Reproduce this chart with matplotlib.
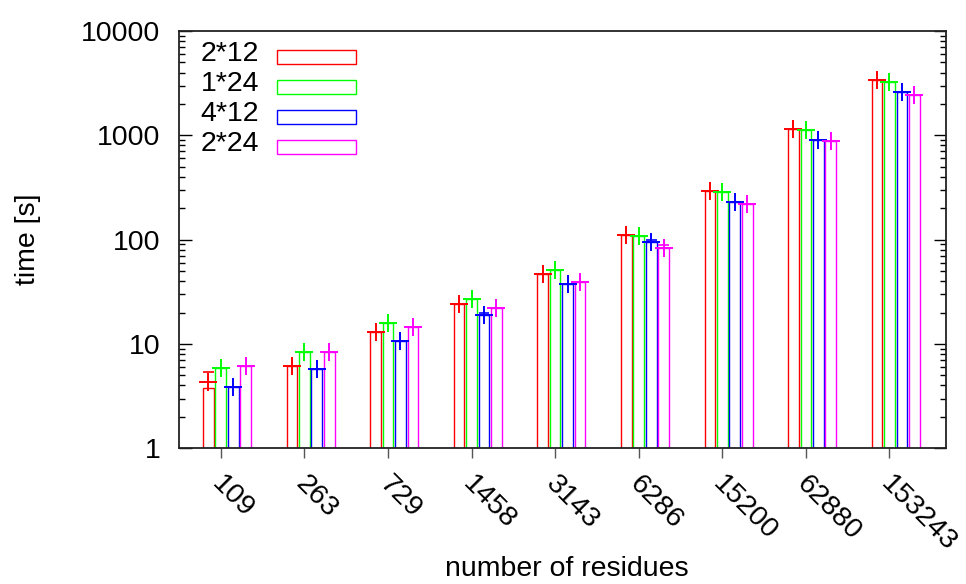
import numpy as np
import matplotlib
matplotlib.use("Agg")
import matplotlib.pyplot as plt
import matplotlib.transforms as mtransforms
from matplotlib.patches import Rectangle
from matplotlib.ticker import LogLocator, NullFormatter

# Benchmark data: wall time per run for each process layout
residues = ["109", "263", "729", "1458", "3143", "6286", "15200", "62880", "153243"]
layouts = ["2*12", "1*24", "4*12", "2*24"]

time_2x12 = [3.77, 6.1, 12.9, 23.9, 47.0, 110.0, 290.0, 1160.0, 3400.0]
time_1x24 = [5.9, 8.4, 16.0, 26.9, 51.4, 108.0, 284.0, 1135.0, 3250.0]
time_4x12 = [3.9, 5.7, 10.7, 18.8, 37.2, 94.0, 231.0, 910.0, 2590.0]
time_2x24 = [6.2, 8.45, 14.5, 22.0, 39.7, 83.6, 218.0, 890.0, 2440.0]

# centre of the point marker drawn on each bar
point_2x12 = [4.36, 6.1, 12.9, 23.9, 47.0, 110.0, 290.0, 1160.0, 3400.0]
point_1x24 = time_1x24
point_4x12 = time_4x12
point_2x24 = time_2x24

# upper whisker where the spread is visible
nan = np.nan
upper_2x12 = [5.36, nan, nan, nan, nan, nan, nan, nan, nan]
upper_1x24 = [nan] * 9
upper_4x12 = [nan, nan, nan, 19.8, nan, 98.3, nan, nan, nan]
upper_2x24 = [nan, nan, nan, nan, nan, 88.9, nan, nan, nan]

colors = ["#ff0000", "#00ff00", "#0000ff", "#ff00ff"]

plt.rcParams["font.family"] = ["Liberation Sans", "DejaVu Sans"]
FS = 20.5

fig = plt.figure(figsize=(9.66, 5.84), dpi=100)
ax = fig.add_axes([179 / 966, 1 - 448.3 / 584, 767 / 966, 417.3 / 584])
ax.set_yscale("log")

series = list(zip(
    [time_2x12, time_1x24, time_4x12, time_2x24],
    [point_2x12, point_1x24, point_4x12, point_2x24],
    [upper_2x12, upper_1x24, upper_4x12, upper_2x24],
))

pitch = 0.149
width = 0.128
x = np.arange(len(residues))
for j, (vals, pts, ups) in enumerate(series):
    xc = x + (j - 1) * pitch
    ax.bar(xc, vals, width=width, fill=False, edgecolor=colors[j],
           linewidth=1.0, zorder=2)
    ax.plot(xc, pts, linestyle="none", marker="+", markersize=12.5,
            markeredgewidth=1.4, color=colors[j], zorder=3)
    ups = np.asarray(ups, dtype=float)
    ok = ~np.isnan(ups)
    ax.hlines(ups[ok], xc[ok] - width / 2, xc[ok] + width / 2,
              colors=colors[j], linewidth=1.2, zorder=3)

ax.set_xlim(-0.5, 8.676)
ax.set_ylim(1, 10000)

ax.set_yticks([1, 10, 100, 1000, 10000])
ax.set_yticklabels(["1", "10", "100", "1000", "10000"])
ax.yaxis.set_minor_locator(LogLocator(base=10, subs=np.arange(2, 10)))
ax.yaxis.set_minor_formatter(NullFormatter())
ax.tick_params(axis="y", which="major", direction="in", length=9, width=1.0,
               left=True, right=True, labelsize=FS, pad=13.5)
ax.tick_params(axis="y", which="minor", direction="in", length=4.5, width=1.0,
               left=True, right=True)

ax.set_xticks(x)
ax.set_xticklabels(residues, rotation=-45, ha="left", va="center",
                   rotation_mode="anchor")
ax.tick_params(axis="x", which="both", direction="out", length=7.2, width=1.0,
               color="#555555", top=False, labelsize=FS, pad=14)
shift = mtransforms.ScaledTranslation(-5 / 100, -2 / 100, fig.dpi_scale_trans)
for lbl in ax.get_xticklabels():
    lbl.set_transform(lbl.get_transform() + shift)

for s in ax.spines.values():
    s.set_linewidth(1.3)
    s.set_color("#222222")

ax.set_ylabel("time [s]", fontsize=FS)
ax.yaxis.set_label_coords(-0.197, 0.5)
ax.set_xlabel("number of residues", fontsize=FS)
ax.xaxis.set_label_coords(0.506, -0.289)
ax.xaxis.label.set_va("center")
ax.yaxis.label.set_va("center")

# key in the upper-left corner
for k, (lab, col) in enumerate(zip(layouts, colors)):
    yb = 0.9274 - k * 0.0719
    ax.text(0.1047, yb, lab, transform=ax.transAxes, ha="right",
            va="baseline", fontsize=FS)
    ax.add_patch(Rectangle((0.1282, yb - 0.0072), 0.1026, 0.0343,
                           transform=ax.transAxes, fill=False,
                           edgecolor=col, linewidth=1.0, clip_on=False))

fig.savefig("out.png", dpi=100)
